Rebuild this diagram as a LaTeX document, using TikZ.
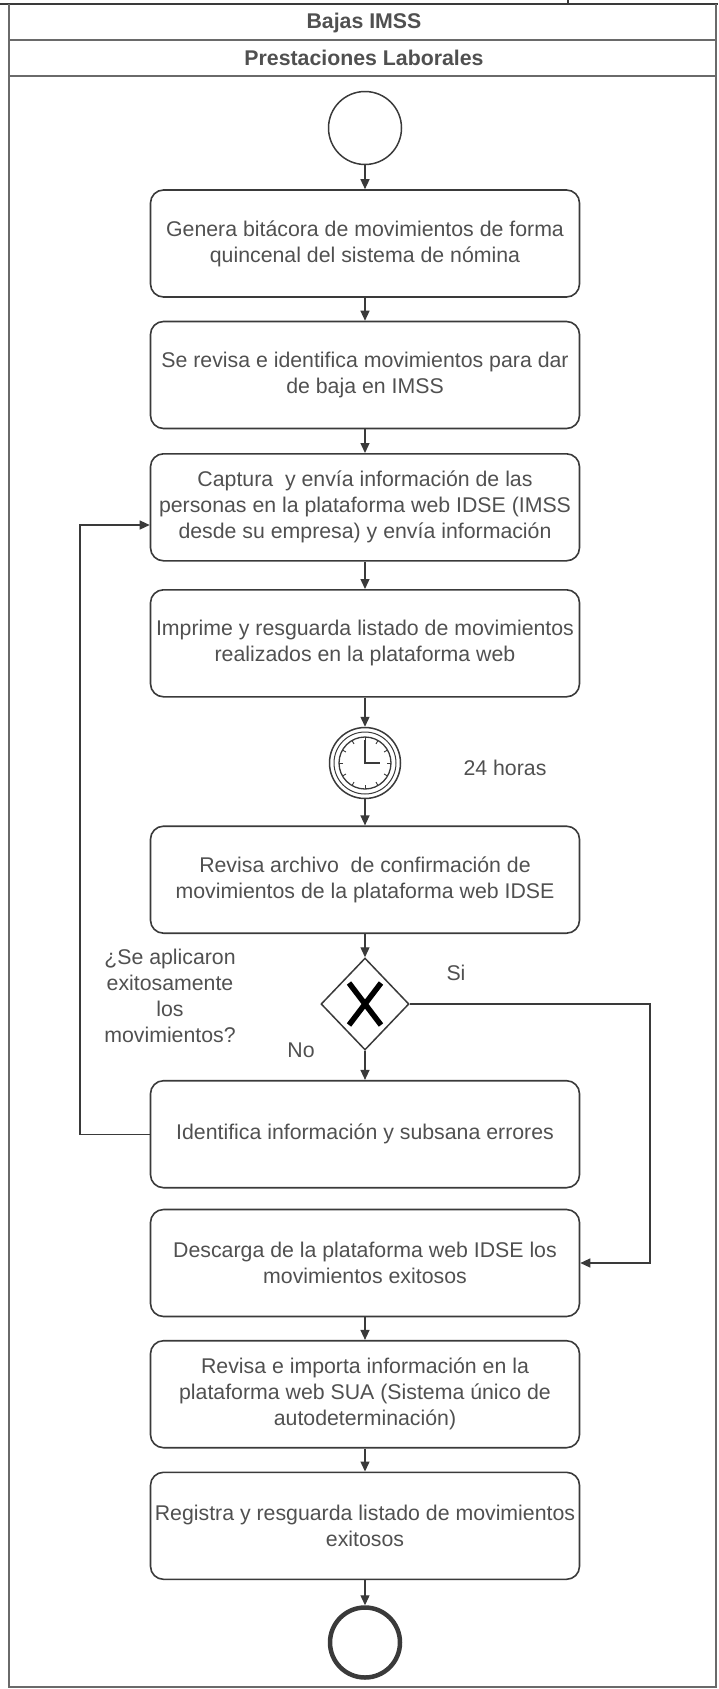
\documentclass[tikz,border=0pt]{standalone}
\usepackage{fontspec}
\setmainfont{Liberation Sans}
\usetikzlibrary{shapes.geometric,arrows.meta,calc}
\definecolor{linec}{HTML}{3A3A3A}
\definecolor{framec}{HTML}{6A6A6A}
\definecolor{txtc}{HTML}{505050}
\begin{document}
\begin{tikzpicture}[x=1pt,y=-1pt,
  every node/.style={font=\fontsize{21.3}{26}\selectfont, text=txtc},
  hdr/.style={font=\fontsize{21.3}{26}\selectfont\bfseries, inner sep=0pt},
  task/.style={draw=linec, line width=1.6pt, rounded corners=13pt, minimum width=429pt, minimum height=107pt, align=center, inner sep=0pt},
  arr/.style={draw=linec, line width=1.3pt, -{Triangle[length=10pt,width=9pt]}},
  lbl/.style={align=center, inner sep=0pt}]
\useasboundingbox (0,0) rectangle (718,1689);
% frame and header
\draw[line width=2pt, linec] (0,4) -- (718,4);
\draw[line width=1.2pt, linec] (568,0) -- (568,4);
\draw[line width=1.5pt, framec] (9,4) -- (9,1687) -- (716,1687) -- (716,4);
\draw[line width=1.8pt, framec] (9,40) -- (716,40);
\draw[line width=1.8pt, framec] (9,76) -- (716,76);
\node[hdr] (t1) at (364,23) {Bajas IMSS};
\node[hdr] (t2) at (364,58) {Prestaciones Laborales};
% start
\node[draw=linec, circle, line width=1.5pt, minimum size=73pt, inner sep=0pt] (start) at (365,128) {};
% tasks
\node[task] (b1) at (365,243.5) {Genera bitácora de movimientos de forma\\quincenal del sistema de nómina};
\node[task] (b2) at (365,375) {Se revisa e identifica movimientos para dar\\de baja en IMSS};
\node[task] (b3) at (365,507.3) {Captura\ \ y envía información de las\\personas en la plataforma web IDSE (IMSS\\desde su empresa) y envía información};
\node[task] (b4) at (365,643.3) {Imprime y resguarda listado de movimientos\\realizados en la plataforma web};
% timer
\node[draw=linec, circle, line width=1.5pt, minimum size=71pt, inner sep=0pt] (timer) at (365,763) {};
\draw[linec, line width=1pt] (timer.center) circle[radius=31pt];
\draw[linec, line width=1.3pt] (timer.center) circle[radius=26pt];
\foreach \a in {0,30,...,330}
  \draw[linec, line width=0.9pt] ($(timer.center)+(\a:22pt)$) -- ($(timer.center)+(\a:26pt)$);
\draw[linec, line width=1.4pt] ($(timer.center)+(0,-23)$) -- (timer.center) -- ($(timer.center)+(15,0)$);
\node[lbl] (hrs) at (505,768) {24 horas};
\node[task] (b5) at (365,879.7) {Revisa archivo\ \ de confirmación de\\movimientos de la plataforma web IDSE};
% gateway
\node[draw=linec, diamond, line width=1.5pt, minimum width=88pt, minimum height=92pt, inner sep=0pt] (gw) at (365,1004) {};
\draw[black, line width=5.5pt] ($(gw.center)+(-16,-21)$) -- ($(gw.center)+(16,21)$);
\draw[black, line width=5.5pt] ($(gw.center)+(16,-21)$) -- ($(gw.center)+(-16,21)$);
\node[lbl] (q) at (170,996) {¿Se aplicaron\\exitosamente\\los\\movimientos?};
\node[lbl] (si) at (456,973) {Si};
\node[lbl] (no) at (301,1050) {No};
\node[task] (b6) at (365,1134.2) {Identifica información y subsana errores};
\node[task] (b7) at (365,1263) {Descarga de la plataforma web IDSE los\\movimientos exitosos};
\node[task] (b8) at (365,1394.2) {Revisa e importa información en la\\plataforma web SUA (Sistema único de\\autodeterminación)};
\node[task] (b9) at (365,1525.8) {Registra y resguarda listado de movimientos\\exitosos};
% end
\node[draw=linec, circle, line width=4.5pt, minimum size=70pt, inner sep=0pt] (end) at (365,1642.5) {};
% connectors
\draw[arr] (start) -- (b1);
\draw[arr] (b1) -- (b2);
\draw[arr] (b2) -- (b3);
\draw[arr] (b3) -- (b4);
\draw[arr] (b4) -- (timer);
\draw[arr] (timer) -- (b5);
\draw[arr] (b5) -- (gw);
\draw[arr] (gw) -- (b6);
\coordinate (sr) at (650,1004);
\draw[arr] (gw.east) -- (sr) -- (sr |- b7.east) -- (b7.east);
\coordinate (fl) at (80,525);
\draw[arr] (b6.west) -- (b6.west -| fl) -- (fl) -- (fl -| b3.west);
\draw[arr] (b7) -- (b8);
\draw[arr] (b8) -- (b9);
\draw[arr] (b9) -- (end);
\end{tikzpicture}
\end{document}
